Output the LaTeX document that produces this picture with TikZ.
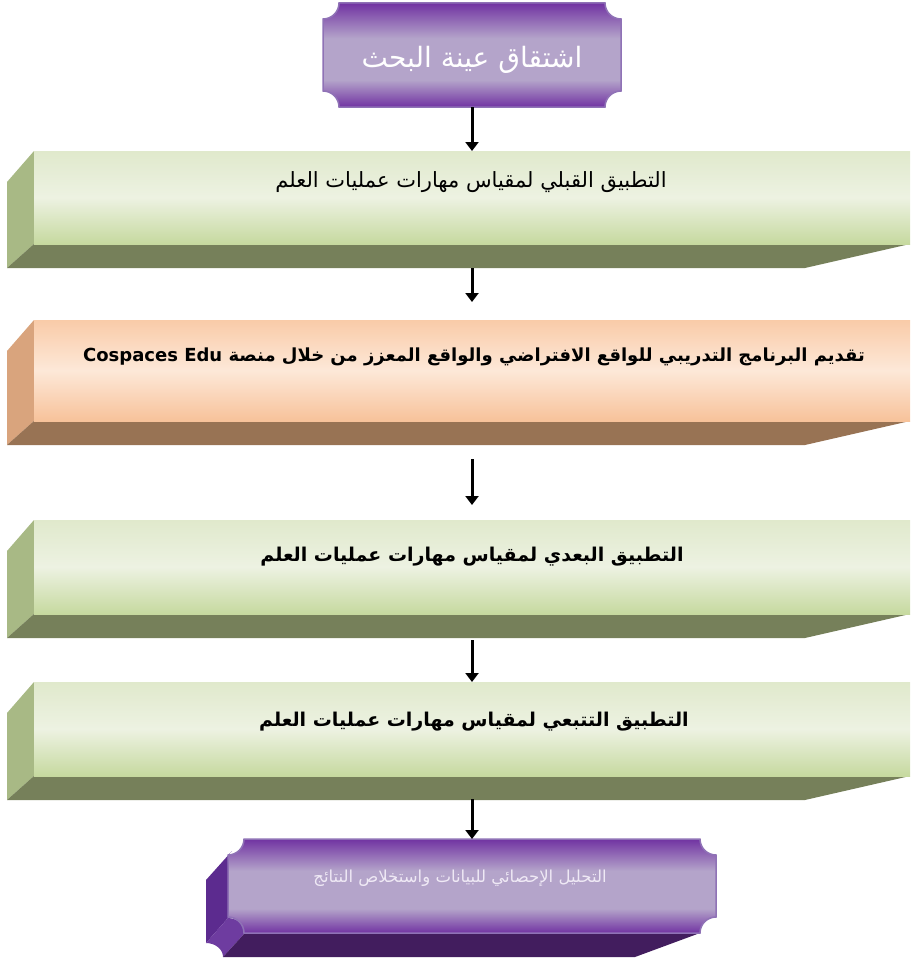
\documentclass[tikz,border=0pt]{standalone}
\usepackage{fontspec}
\newfontfamily\arabicfont[Script=Arabic]{DejaVu Sans}
\TeXXeTstate=1
\usetikzlibrary{arrows.meta,calc}

\definecolor{greenTop}{HTML}{E0E9CC}
\definecolor{greenMid}{HTML}{EDF2E2}
\definecolor{greenBot}{HTML}{C6D99F}
\definecolor{greenSide}{HTML}{A8B985}
\definecolor{greenBand}{HTML}{76805A}
\definecolor{orangeTop}{HTML}{F9CBA8}
\definecolor{orangeMid}{HTML}{FDE8D8}
\definecolor{orangeBot}{HTML}{F7C29A}
\definecolor{orangeSide}{HTML}{D9A47D}
\definecolor{orangeBand}{HTML}{987354}
\definecolor{purpleDark}{HTML}{7133A2}
\definecolor{purpleLight}{HTML}{B4A4CA}
\definecolor{purpleEdge}{HTML}{8F72B6}
\definecolor{purpleSide}{HTML}{5C2B8F}
\definecolor{purpleNotch}{HTML}{6E3CA0}
\definecolor{purpleBand}{HTML}{421D5E}
\definecolor{paleText}{HTML}{EFE9F5}

\pgfdeclareverticalshading{plaqueshade}{100bp}{color(0bp)=(purpleDark); color(25bp)=(purpleDark);
	color(38bp)=(purpleLight); color(58bp)=(purpleLight); color(75bp)=(purpleDark); color(100bp)=(purpleDark)}

\tikzset{
	flowarrow/.style={line width=3pt, -{Triangle[width=13pt,length=9pt]}},
	greenface/.style={top color=greenTop, bottom color=greenBot, middle color=greenMid, inner sep=0pt, outer sep=0pt},
	orangeface/.style={top color=orangeTop, bottom color=orangeBot, middle color=orangeMid, inner sep=0pt, outer sep=0pt},
	plaquefill/.style={shading=plaqueshade, draw=purpleEdge, line width=1.5pt},
	placeholder/.style={inner sep=0pt, outer sep=0pt},
	steptext/.style={font=\fontsize{21}{24}\selectfont\arabicfont},
	boldtext/.style={font=\fontsize{19}{22}\selectfont\arabicfont\bfseries}
}

% plaque outline: x1, y1, x2, y2, notch radius
\newcommand\plaquepath[5]{({#1+#5},#2) -- ({#3-#5},#2)
	.. controls ({#3-#5},{#2+0.55*#5}) and ({#3-0.55*#5},{#2+#5}) .. (#3,{#2+#5})
	-- (#3,{#4-#5})
	.. controls ({#3-0.55*#5},{#4-#5}) and ({#3-#5},{#4-0.55*#5}) .. ({#3-#5},#4)
	-- ({#1+#5},#4)
	.. controls ({#1+#5},{#4-0.55*#5}) and ({#1+0.55*#5},{#4-#5}) .. (#1,{#4-#5})
	-- (#1,{#2+#5})
	.. controls ({#1+0.55*#5},{#2+#5}) and ({#1+#5},{#2+0.55*#5}) .. ({#1+#5},#2) -- cycle}

% bevelled slab: name, top, bottom, face style, side colour, band colour
\newcommand\slab[6]{
	\fill[#5] (34,#2) -- (7,{#2+31}) -- (7,{#3+24}) -- (34,#3) -- cycle;
	\fill[#6] (34,#3) -- (910,#3) -- (805,{#3+24}) -- (7,{#3+24}) -- cycle;
	\node[#4, anchor=north west, minimum width=876pt, minimum height={(#3-#2)*1pt}] (#1) at (34,#2) {};
}

\begin{document}
\begin{tikzpicture}[x=1pt,y=-1pt]
	\useasboundingbox (0,0) rectangle (914,958);

	%--- Research sample ---
	\path[plaquefill] \plaquepath{323}{3}{621}{107}{16};
	\node[placeholder, minimum width=298pt, minimum height=104pt] (sample) at (472,55) {};
	\node[font=\fontsize{28}{32}\selectfont\arabicfont, text=white] (sampletxt) at (472,60) {\beginR اشتقاق عينة البحث\endR};

	%--- Slabs ---
	\slab{pre}{151}{244}{greenface}{greenSide}{greenBand}
	\node[steptext] (pretxt) at (471,182) {\beginR التطبيق القبلي لمقياس مهارات عمليات العلم\endR};

	\slab{intro}{320}{421}{orangeface}{orangeSide}{orangeBand}
	\node[boldtext, font=\fontsize{18}{22}\selectfont\arabicfont\bfseries] (introtxt) at (474,357) {\beginR تقديم البرنامج التدريبي للواقع الافتراضي والواقع المعزز من خلال منصة \beginL Cospaces Edu\endL\endR};

	\slab{post}{520}{614}{greenface}{greenSide}{greenBand}
	\node[boldtext] (posttxt) at (472,557) {\beginR التطبيق البعدي لمقياس مهارات عمليات العلم\endR};

	\slab{follow}{682}{776}{greenface}{greenSide}{greenBand}
	\node[boldtext] (followtxt) at (474,722) {\beginR التطبيق التتبعي لمقياس مهارات عمليات العلم\endR};

	%--- Analysis plaque (extruded) ---
	\fill[purpleSide] (232,851) -- (206,880) -- (206,943) -- (228,918) -- (228,855) -- cycle;
	\fill[purpleNotch] (228,918) .. controls (237,918) and (245,925) .. (245,933)
		-- (223,957) .. controls (223,949) and (215,943) .. (206,943) -- cycle;
	\fill[purpleBand] (245,933) -- (700,933) -- (635,957) -- (223,957) -- cycle;
	\path[plaquefill] \plaquepath{228}{839}{716}{933}{16};
	\node[placeholder, minimum width=488pt, minimum height=94pt] (final) at (472,886) {};
	\node[font=\fontsize{16.5}{19}\selectfont\arabicfont, text=paleText] (finaltxt) at (460,878) {\beginR التحليل الإحصائي للبيانات واستخلاص النتائج\endR};

	%--- Arrows ---
	\draw[flowarrow] (sample.south) -- (pre.north);
	\draw[flowarrow] ($(pre.south)+(0,24)$) -- ($(intro.north)+(0,-18)$);
	\draw[flowarrow] ($(intro.south)+(0,38)$) -- ($(post.north)+(0,-15)$);
	\draw[flowarrow] ($(post.south)+(0,26)$) -- (follow.north);
	\draw[flowarrow] ($(follow.south)+(0,23)$) -- (final.north);
\end{tikzpicture}
\end{document}
